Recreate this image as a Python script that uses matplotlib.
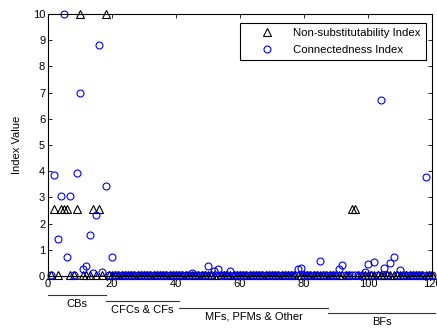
"""
Index values per institution: non-substitutability vs connectedness
"""

import numpy as np
import matplotlib.pyplot as plt
import matplotlib.transforms as mtransforms

plt.rcParams['font.family'] = ['Liberation Sans', 'DejaVu Sans']

# institution index 1..120
inst = np.arange(1, 121)

# non-substitutability index (triangles)
non_sub = [
    0.05, 2.55, 0.05, 2.55, 2.55, 2.55, 0.05, 0.05, 2.55, 10.0,
    0.05, 0.05, 0.05, 2.55, 0.05, 2.55, 0.05, 10.0, 0.05, 0.05,
    0.05, 0.05, 0.05, 0.05, 0.05, 0.05, 0.05, 0.05, 0.05, 0.05,
    0.05, 0.05, 0.05, 0.05, 0.05, 0.05, 0.05, 0.05, 0.05, 0.05,
    0.05, 0.05, 0.05, 0.05, 0.05, 0.05, 0.05, 0.05, 0.05, 0.05,
    0.05, 0.05, 0.05, 0.05, 0.05, 0.05, 0.05, 0.05, 0.05, 0.05,
    0.05, 0.05, 0.05, 0.05, 0.05, 0.05, 0.05, 0.05, 0.05, 0.05,
    0.05, 0.05, 0.05, 0.05, 0.05, 0.05, 0.05, 0.05, 0.05, 0.05,
    0.05, 0.05, 0.05, 0.05, 0.05, 0.05, 0.05, 0.05, 0.05, 0.05,
    0.05, 0.05, 0.05, 0.05, 2.55, 2.55, 0.05, 0.05, 0.05, 0.05,
    0.05, 0.05, 0.05, 0.05, 0.05, 0.05, 0.05, 0.05, 0.05, 0.05,
    0.05, 0.05, 0.05, 0.05, 0.05, 0.05, 0.05, 0.05, 0.05, 0.05,
]

# connectedness index (circles)
connect = [
    0.05, 3.85, 1.40, 3.05, 10.0, 0.72, 3.05, 0.05, 3.92, 7.00,
    0.25, 0.40, 1.58, 0.10, 2.33, 8.83, 0.15, 3.42, 0.05, 0.72,
    0.05, 0.05, 0.05, 0.05, 0.05, 0.05, 0.05, 0.05, 0.05, 0.05,
    0.05, 0.05, 0.05, 0.05, 0.05, 0.05, 0.05, 0.05, 0.05, 0.05,
    0.05, 0.05, 0.05, 0.05, 0.12, 0.05, 0.05, 0.05, 0.05, 0.38,
    0.05, 0.19, 0.25, 0.05, 0.05, 0.05, 0.19, 0.05, 0.05, 0.05,
    0.05, 0.05, 0.05, 0.05, 0.05, 0.05, 0.05, 0.05, 0.05, 0.05,
    0.05, 0.05, 0.05, 0.05, 0.05, 0.05, 0.05, 0.25, 0.32, 0.05,
    0.05, 0.05, 0.05, 0.05, 0.57, 0.05, 0.05, 0.05, 0.05, 0.05,
    0.26, 0.42, 0.05, 0.05, 0.05, 0.05, 0.05, 0.05, 0.16, 0.45,
    0.05, 0.55, 0.05, 6.72, 0.29, 0.05, 0.51, 0.71, 0.05, 0.21,
    0.05, 0.05, 0.05, 0.05, 0.05, 0.05, 0.05, 3.79, 0.05, 0.05,
]

# sector groups: (label, start, end)
group_names = ['CBs', 'CFCs & CFs', 'MFs, PFMs & Other', 'BFs']
group_start = [0, 18, 41, 87.5]
group_end = [18, 41, 87.5, 121]


def main():
    fig = plt.figure(figsize=(4.37, 3.29), dpi=100)
    ax = fig.add_axes([0.1098, 0.1611, 0.8788, 0.7963])

    ax.plot(inst, non_sub, linestyle='none', marker='^', ms=5.5,
            mfc='none', mec='black', mew=0.8, clip_on=False,
            label='Non-substitutability Index')
    ax.plot(inst, connect, linestyle='none', marker='o', ms=5,
            mfc='none', mec='#0000ff', mew=0.8, clip_on=False,
            label='Connectedness Index')

    ax.set_xlim(0, 120)
    ax.set_ylim(0, 10)
    ax.set_xticks(np.arange(0, 121, 20))
    ax.set_yticks(np.arange(0, 11, 1))
    ax.tick_params(direction='in', top=True, right=True, labelsize=8,
                   length=3, width=0.6, pad=2)
    for s in ax.spines.values():
        s.set_linewidth(0.8)
    ax.set_ylabel('Index Value', fontsize=8, labelpad=8)

    leg = ax.legend(loc='upper right', bbox_to_anchor=(0.984, 0.966),
                    borderaxespad=0, fontsize=8.2, fancybox=False,
                    edgecolor='black', framealpha=1, handlelength=3.8,
                    handletextpad=0.4, borderpad=0.45, labelspacing=0.6)
    leg.get_frame().set_linewidth(0.8)

    # group brackets below the x axis
    trans = mtransforms.blended_transform_factory(ax.transData, ax.transAxes)
    line_y = [-0.0725, -0.095, -0.122, -0.141]
    text_y = [-0.107, -0.128, -0.155, -0.174]
    for name, x0, x1, ly, ty in zip(group_names, group_start, group_end,
                                    line_y, text_y):
        ax.plot([x0, x1], [ly, ly], color='#333333', lw=0.8,
                transform=trans, clip_on=False)
        ax.text((x0 + x1) / 2, ty, name, transform=trans, fontsize=8,
                ha='center', va='center')

    fig.savefig('out.png', dpi=100)
    plt.close(fig)


if __name__ == "__main__":
    main()
